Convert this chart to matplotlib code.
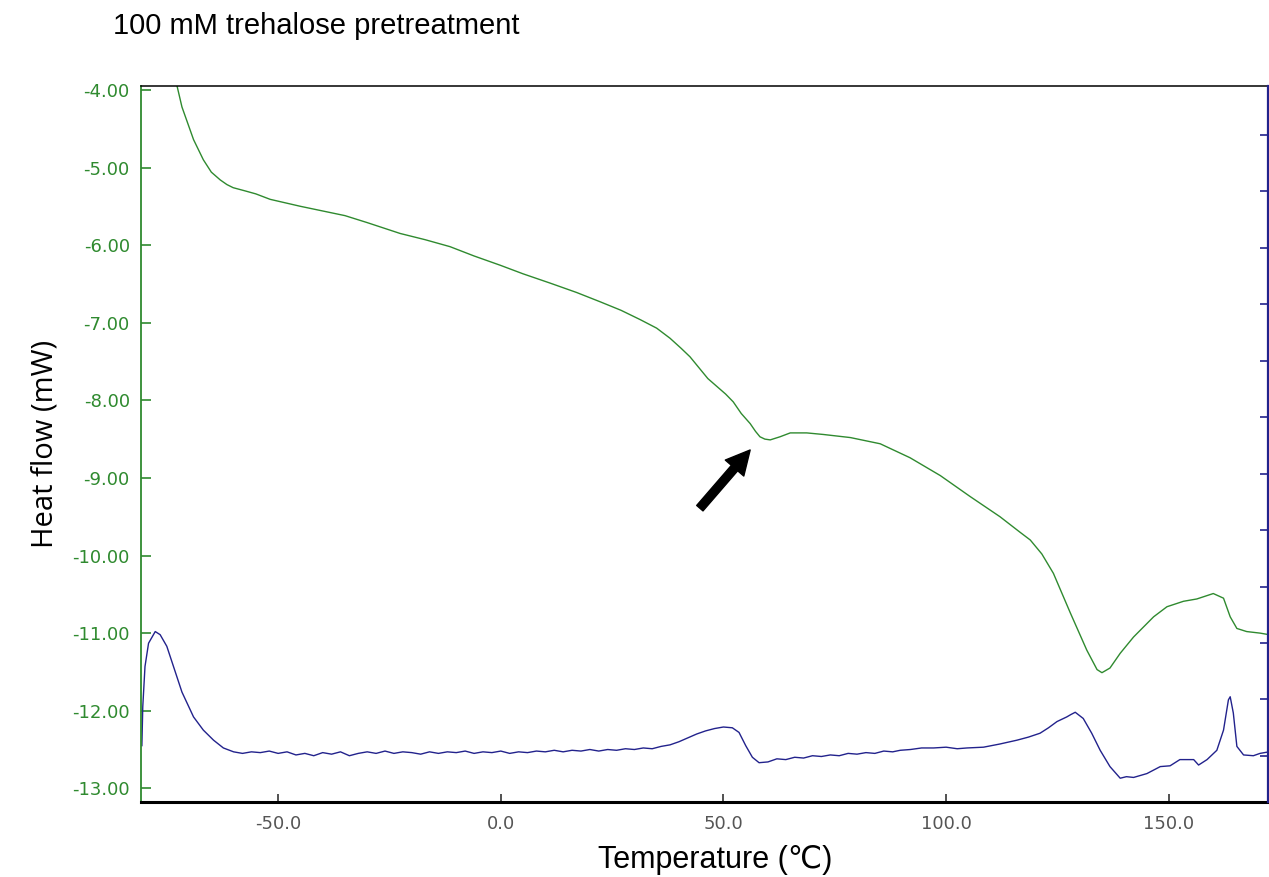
import matplotlib
matplotlib.use("Agg")
import matplotlib.pyplot as plt
from matplotlib.patches import FancyArrowPatch

plt.rcParams["font.family"] = ["Liberation Sans", "DejaVu Sans"]

GREEN = "#2f8a2f"
BLUE = "#22228c"

# sample curve (green)
green_t = [-73.5, -72.7, -71.6, -69.0, -66.8, -65.0, -63.0, -61.5, -60.1, -57.5, -55.0,
           -51.8, -45.0, -40.0, -35.0, -30.0, -22.6, -17.0, -11.4, -6.0, -0.1, 5.0, 11.1,
           17.0, 22.3, 27.0, 31.3, 35.0, 38.0, 40.5, 42.5, 44.5, 46.5, 48.5, 50.5, 52.2,
           54.0, 56.0, 57.2, 58.2, 59.3, 60.5, 62.7, 65.0, 68.7, 72.4, 78.5, 85.2, 91.9,
           98.7, 105.4, 112.1, 116.6, 118.9, 121.5, 124.1, 127.9, 131.6, 133.9, 135.0,
           136.8, 139.1, 142.1, 146.6, 149.6, 153.3, 156.3, 160.0, 162.3, 163.8, 165.3,
           167.5, 170.5, 172.5]
green_hf = [-3.80, -3.95, -4.22, -4.64, -4.90, -5.06, -5.16, -5.22, -5.26, -5.30, -5.34,
            -5.41, -5.50, -5.56, -5.62, -5.71, -5.85, -5.93, -6.02, -6.14, -6.26, -6.37,
            -6.49, -6.61, -6.73, -6.84, -6.96, -7.07, -7.20, -7.33, -7.44, -7.58, -7.72,
            -7.82, -7.92, -8.02, -8.17, -8.30, -8.40, -8.47, -8.50, -8.51, -8.47, -8.42,
            -8.42, -8.44, -8.48, -8.56, -8.74, -8.97, -9.24, -9.50, -9.70, -9.80, -9.98,
            -10.23, -10.74, -11.22, -11.47, -11.51, -11.45, -11.26, -11.05, -10.79,
            -10.66, -10.59, -10.56, -10.49, -10.55, -10.79, -10.94, -10.98, -11.00, -11.02]

# reference curve (blue)
blue_t = [-80.6, -80.4, -79.9, -79.1, -77.6, -76.5, -75.0, -73.1, -71.6, -69.0, -66.8,
          -64.5, -62.3, -60.0, -58, -56, -54, -52, -50, -48, -46, -44, -42, -40, -38,
          -36, -34, -32, -30, -28, -26, -24, -22, -20, -18, -16, -14, -12, -10, -8, -6,
          -4, -2, 0, 2, 4, 6, 8, 10, 12, 14, 16, 18, 20, 22, 24, 26, 28, 30, 32, 34, 36,
          38, 40, 42, 44, 46, 48, 50, 52, 53.5, 55, 56.5, 58, 60, 62, 64, 66, 68, 70, 72,
          74, 76, 78, 80, 82, 84, 86, 88, 89.7, 92, 94.5, 97.2, 100, 102.5, 104.7, 108.4,
          112, 115.9, 118.5, 121.1, 123, 124.9, 127.1, 128, 129.0, 130.8, 132.7, 134.6,
          136.8, 139.1, 140.5, 142.1, 145.1, 148.1, 150.3, 152.5, 155.6, 156.7, 158.6,
          160.8, 162.3, 163.4, 163.8, 164.5, 165.3, 166.8, 169.0, 170.5, 172.5]
blue_hf = [-12.45, -11.95, -11.43, -11.13, -10.98, -11.02, -11.17, -11.50, -11.76, -12.08,
           -12.25, -12.38, -12.48, -12.53, -12.55, -12.53, -12.54, -12.52, -12.55, -12.53,
           -12.57, -12.55, -12.58, -12.54, -12.56, -12.53, -12.58, -12.55, -12.53, -12.55,
           -12.52, -12.55, -12.53, -12.54, -12.56, -12.53, -12.55, -12.53, -12.54, -12.52,
           -12.55, -12.53, -12.54, -12.52, -12.55, -12.53, -12.54, -12.52, -12.53, -12.51,
           -12.53, -12.51, -12.52, -12.50, -12.52, -12.50, -12.51, -12.49, -12.50, -12.48,
           -12.49, -12.46, -12.44, -12.40, -12.35, -12.30, -12.26, -12.23, -12.21, -12.22,
           -12.28, -12.45, -12.60, -12.67, -12.66, -12.62, -12.63, -12.60, -12.61, -12.58,
           -12.59, -12.57, -12.58, -12.55, -12.56, -12.54, -12.55, -12.52, -12.53, -12.51,
           -12.50, -12.48, -12.48, -12.47, -12.49, -12.48, -12.47, -12.43, -12.38, -12.34,
           -12.29, -12.22, -12.14, -12.08, -12.05, -12.02, -12.10, -12.29, -12.51, -12.72,
           -12.87, -12.85, -12.86, -12.81, -12.72, -12.71, -12.63, -12.63, -12.70, -12.63,
           -12.51, -12.25, -11.86, -11.82, -12.03, -12.46, -12.57, -12.58, -12.55, -12.53]

x_ticks = [-50, 0, 50, 100, 150]
y_ticks = [-4, -5, -6, -7, -8, -9, -10, -11, -12, -13]
arrow_tail = (44.7, -9.39)
arrow_tip = (56.0, -8.64)

fig = plt.figure(figsize=(12.69, 8.77), dpi=100)
ax = fig.add_axes([0.1111, 0.0852, 0.8878, 0.8167])
ax.plot(green_t, green_hf, color=GREEN, lw=1.0)
ax.plot(blue_t, blue_hf, color=BLUE, lw=1.0)
ax.set_xlim(-80.8, 172.2)
ax.set_ylim(-13.18, -3.95)

ax.set_xticks(x_ticks)
ax.set_xticklabels([f"{v:.1f}" for v in x_ticks], family="DejaVu Sans", fontsize=13,
                   color="#555555")
ax.set_yticks(y_ticks)
ax.set_yticklabels([f"{v:.2f}" for v in y_ticks], family="DejaVu Sans", fontsize=13,
                   color=GREEN)
ax.tick_params(axis="x", direction="in", length=6, width=1.2, color="#333333", pad=9)
ax.tick_params(axis="y", direction="in", length=7, width=1.2, color=GREEN, pad=8)

ax.spines["left"].set_color(GREEN)
ax.spines["left"].set_linewidth(1.3)
ax.spines["bottom"].set_color("black")
ax.spines["bottom"].set_linewidth(2.2)
ax.spines["top"].set_color("black")
ax.spines["top"].set_linewidth(1.1)
ax.spines["right"].set_visible(False)

# right-hand scale of the reference curve: ticks only, no labels
twin = ax.twinx()
twin.set_ylim(-0.82, 11.86)
twin.set_yticks(range(0, 12))
twin.set_yticklabels([])
twin.tick_params(axis="y", direction="in", length=6, width=1.2, color=BLUE)
twin.spines["right"].set_color(BLUE)
twin.spines["right"].set_linewidth(1.6)
for side in ["left", "top", "bottom"]:
    twin.spines[side].set_visible(False)

ax.set_xlabel("Temperature (\u2103)", fontsize=22, va="center")
ax.xaxis.set_label_coords(0.51, -0.081)
ax.set_ylabel("Heat flow (mW)", fontsize=21, family="Open Sans", va="center")
ax.yaxis.set_label_coords(-0.085, 0.5)

arrow = FancyArrowPatch(arrow_tail, arrow_tip,
                        arrowstyle="simple,head_length=0.86,head_width=0.88,tail_width=0.3",
                        mutation_scale=20, color="black", shrinkA=0, shrinkB=0)
ax.add_patch(arrow)

fig.text(113 / 1269, 1 - 34 / 877, "100 mM trehalose pretreatment", fontsize=21,
         ha="left", va="baseline")

fig.savefig("out.png", dpi=100)
